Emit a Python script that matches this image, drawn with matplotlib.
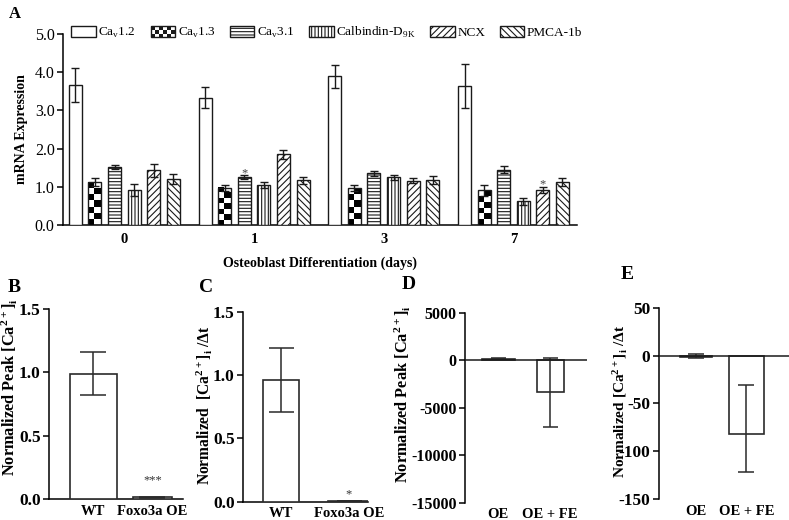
import matplotlib as mpl
import matplotlib.pyplot as plt
import numpy as np
from matplotlib.legend_handler import HandlerBase
from matplotlib.patches import Rectangle
from matplotlib.ticker import FormatStrFormatter


mpl.rcParams.update(
    {
        "font.family": "serif",
        "font.serif": ["Liberation Serif", "DejaVu Serif"],
        "font.size": 10,
        "axes.linewidth": 1.1,
        "axes.unicode_minus": False,
        "hatch.linewidth": 0.8,
        "figure.facecolor": "white",
    }
)

INK = "#1a1a1a"

# panel A: mRNA expression over osteoblast differentiation
DAYS = ["0", "1", "3", "7"]
GENE_LABELS = [
    "Ca$_\\mathregular{v}$1.2",
    "Ca$_\\mathregular{v}$1.3",
    "Ca$_\\mathregular{v}$3.1",
    "Calbindin-D$_\\mathregular{9K}$",
    "NCX",
    "PMCA-1b",
]
CAV12 = [3.67, 3.33, 3.89, 3.64]
CAV12_ERR = [0.44, 0.27, 0.31, 0.57]
CAV13 = [1.12, 0.98, 0.96, 0.91]
CAV13_ERR = [0.10, 0.08, 0.08, 0.15]
CAV31 = [1.52, 1.25, 1.35, 1.45]
CAV31_ERR = [0.05, 0.05, 0.06, 0.10]
CALB = [0.92, 1.04, 1.25, 0.62]
CALB_ERR = [0.15, 0.08, 0.06, 0.10]
NCX = [1.43, 1.85, 1.16, 0.91]
NCX_ERR = [0.18, 0.11, 0.07, 0.08]
PMCA = [1.20, 1.17, 1.17, 1.13]
PMCA_ERR = [0.13, 0.09, 0.10, 0.10]
# (gene index, day index, star height)
A_STARS = [(2, 1, 1.36), (4, 3, 1.07)]

# panels B-E
B_GROUPS = ["WT", "Foxo3a OE"]
B_MEAN = [0.99, 0.012]
B_ERR = [0.17, 0.004]
C_GROUPS = ["WT", "Foxo3a OE"]
C_MEAN = [0.96, 0.003]
C_ERR = [0.25, 0.001]
D_GROUPS = ["OE", "OE + FE"]
D_MEAN = [150, -3400]
D_ERR = [60, 3600]
E_GROUPS = ["OE", "OE + FE"]
E_MEAN = [-1.0, -82.0]
E_ERR_LOW = [1.2, 40.0]
E_ERR_HIGH = [2.5, 51.0]

CA = "[$\\mathregular{Ca^{2+}}$]$_\\mathregular{i}$"


class CheckerHandler(HandlerBase):
    def create_artists(self, legend, orig_handle, xdescent, ydescent, width, height, fontsize, trans):
        nx, ny = 6, 3
        cw, ch = width / nx, height / ny
        arts = []
        for i in range(nx):
            for j in range(ny):
                if (i + j) % 2 == 0:
                    arts.append(Rectangle((-xdescent + i * cw, -ydescent + j * ch), cw, ch,
                                          facecolor=INK, edgecolor="none", transform=trans))
        arts.append(Rectangle((-xdescent, -ydescent), width, height, facecolor="none",
                              edgecolor=INK, lw=1.0, transform=trans))
        return arts


fig = plt.figure(figsize=(7.89, 5.20), dpi=100)

# ---------------- panel A ----------------
ax = fig.add_axes([0.0798, 0.5673, 0.6516, 0.3673])
x = np.arange(len(DAYS))
series = [CAV12, CAV13, CAV31, CALB, NCX, PMCA]
errs = [CAV12_ERR, CAV13_ERR, CAV31_ERR, CALB_ERR, NCX_ERR, PMCA_ERR]
hatches = [None, None, "-----", "|||||", "/////", "\\\\\\\\\\"]
step, width = 0.151, 0.10
all_bars = []
for k, (vals, err, h) in enumerate(zip(series, errs, hatches)):
    pos = x + (k - 2.5) * step
    bars = ax.bar(pos, vals, width, facecolor="white" if k != 1 else "none", edgecolor=INK,
                  linewidth=1.0, hatch=h, zorder=3)
    all_bars.append(bars)
    ax.errorbar(pos, vals, yerr=err, fmt="none", ecolor=INK, elinewidth=1.0, capsize=2.6,
                capthick=1.0, zorder=4)

# checkerboard fill for Cav1.3
for rect in all_bars[1]:
    x0, w, h = rect.get_x(), rect.get_width(), rect.get_height()
    ny = max(1, int(round(h / 0.15)))
    board = np.add.outer(np.arange(ny), np.arange(2)) % 2
    ax.imshow(board, cmap="gray", vmin=0, vmax=1, extent=(x0, x0 + w, 0, h), origin="lower",
              aspect="auto", interpolation="nearest", zorder=2.5)

for gi, di, yv in A_STARS:
    ax.text(x[di] + (gi - 2.5) * step, yv, "*", ha="center", va="center", fontsize=9,
            color="#444444", zorder=5)

ax.set_xlim(-0.473, 3.49)
ax.set_ylim(0, 5.0)
ax.set_aspect("auto")
ax.set_yticks(np.arange(0, 5.1, 1.0))
ax.yaxis.set_major_formatter(FormatStrFormatter("%.1f"))
ax.set_xticks(x)
ax.set_xticklabels(DAYS, fontweight="bold", fontsize=10.5)
ax.tick_params(axis="x", length=0, pad=6)
ax.tick_params(axis="y", length=4, width=1.1, labelsize=11.5, pad=2)
ax.spines["top"].set_visible(False)
ax.spines["right"].set_visible(False)
ax.set_ylabel("mRNA Expression", fontweight="bold", fontsize=10)
ax.yaxis.set_label_coords(-0.068, 0.5)
ax.set_xlabel("Osteoblast Differentiation (days)", fontweight="bold", fontsize=10)
ax.xaxis.set_label_coords(0.5, -0.165)

handles = []
for k, h in enumerate(hatches):
    handles.append(Rectangle((0, 0), 1, 1, facecolor="white", edgecolor=INK, lw=1.0, hatch=h))
fig.legend(handles, GENE_LABELS, loc="center left", bbox_to_anchor=(0.0905, 0.937), ncol=6,
           frameon=False, fontsize=9.5, handlelength=1.85, handleheight=0.95, handletextpad=0.2,
           columnspacing=1.1, borderpad=0, borderaxespad=0,
           handler_map={handles[1]: CheckerHandler()})

fig.text(0.019, 0.973, "A", fontsize=12, fontweight="bold", ha="center", va="center")


# ---------------- panels B-E ----------------
def small_panel(rect, groups, mean, yerr, widths, xlim, ylim, yticks, fmt, capsize, ylabel,
                label_xy, label_size, tick_size=12.5, zero_line=False):
    ax = fig.add_axes(rect)
    pos = np.arange(len(groups))
    ax.bar(pos, mean, width=widths, facecolor="white", edgecolor="#2a2a2a", linewidth=1.2, zorder=3)
    ax.errorbar(pos, mean, yerr=yerr, fmt="none", ecolor="#2a2a2a", elinewidth=1.1, capsize=capsize,
                capthick=1.1, zorder=4)
    ax.set_xlim(*xlim)
    ax.set_ylim(*ylim)
    ax.set_yticks(yticks)
    ax.yaxis.set_major_formatter(FormatStrFormatter(fmt))
    ax.set_xticks(pos)
    ax.set_xticklabels(groups)
    for lab in ax.get_xticklabels() + ax.get_yticklabels():
        lab.set_fontweight("bold")
    ax.tick_params(axis="x", length=0, pad=4, labelsize=10.5)
    ax.tick_params(axis="y", length=4, width=1.1, pad=2, labelsize=tick_size)
    ax.spines["top"].set_visible(False)
    ax.spines["right"].set_visible(False)
    if zero_line:
        ax.spines["bottom"].set_visible(False)
        ax.axhline(0, color=INK, lw=1.1, zorder=5)
    ax.set_ylabel(ylabel, fontweight="bold", fontsize=label_size)
    ax.yaxis.set_label_coords(*label_xy)
    return ax


axB = small_panel([0.0621, 0.0404, 0.1699, 0.3654], B_GROUPS, B_MEAN, B_ERR, [0.8, 0.66],
                  (-0.75, 1.52), (0, 1.5), [0, 0.5, 1.0, 1.5], "%.1f", 9.7,
                  "Normalized Peak " + CA, (-0.224, 0.59), 11.8)
axB.text(1, 0.15, "***", ha="center", va="center", fontsize=9, color="#333333")

axC = small_panel([0.308, 0.0352, 0.158, 0.3654], C_GROUPS, C_MEAN, C_ERR, [0.53, 0.6],
                  (-0.56, 1.28), (0, 1.5), [0, 0.5, 1.0, 1.5], "%.1f", 9.0,
                  "Normalized  " + CA + " /\u0394t", (-0.23, 0.51), 11.2)
axC.text(1, 0.06, "*", ha="center", va="center", fontsize=9, color="#333333")

axD = small_panel([0.589, 0.0333, 0.1546, 0.3654], D_GROUPS, D_MEAN, D_ERR, [0.63, 0.52],
                  (-0.64, 1.70), (-15000, 5000), [5000, 0, -5000, -10000, -15000], "%d", 5.4,
                  "Normalized Peak " + CA, (-0.43, 0.57), 11.8, tick_size=11.5, zero_line=True)

axE = small_panel([0.835, 0.0404, 0.165, 0.3673], E_GROUPS, E_MEAN, [E_ERR_LOW, E_ERR_HIGH], [0.63, 0.70],
                  (-0.73, 1.84), (-150, 50), [50, 0, -50, -100, -150], "%d", 5.8,
                  "Normalized " + CA + " /\u0394t", (-0.223, 0.51), 11.0, zero_line=True)

for letter, fx, fy in [("B", 0.018, 0.448), ("C", 0.261, 0.448), ("D", 0.518, 0.452), ("E", 0.795, 0.473)]:
    fig.text(fx, fy, letter, fontsize=14, fontweight="bold", ha="center", va="center")

fig.savefig("out.png", dpi=100)
